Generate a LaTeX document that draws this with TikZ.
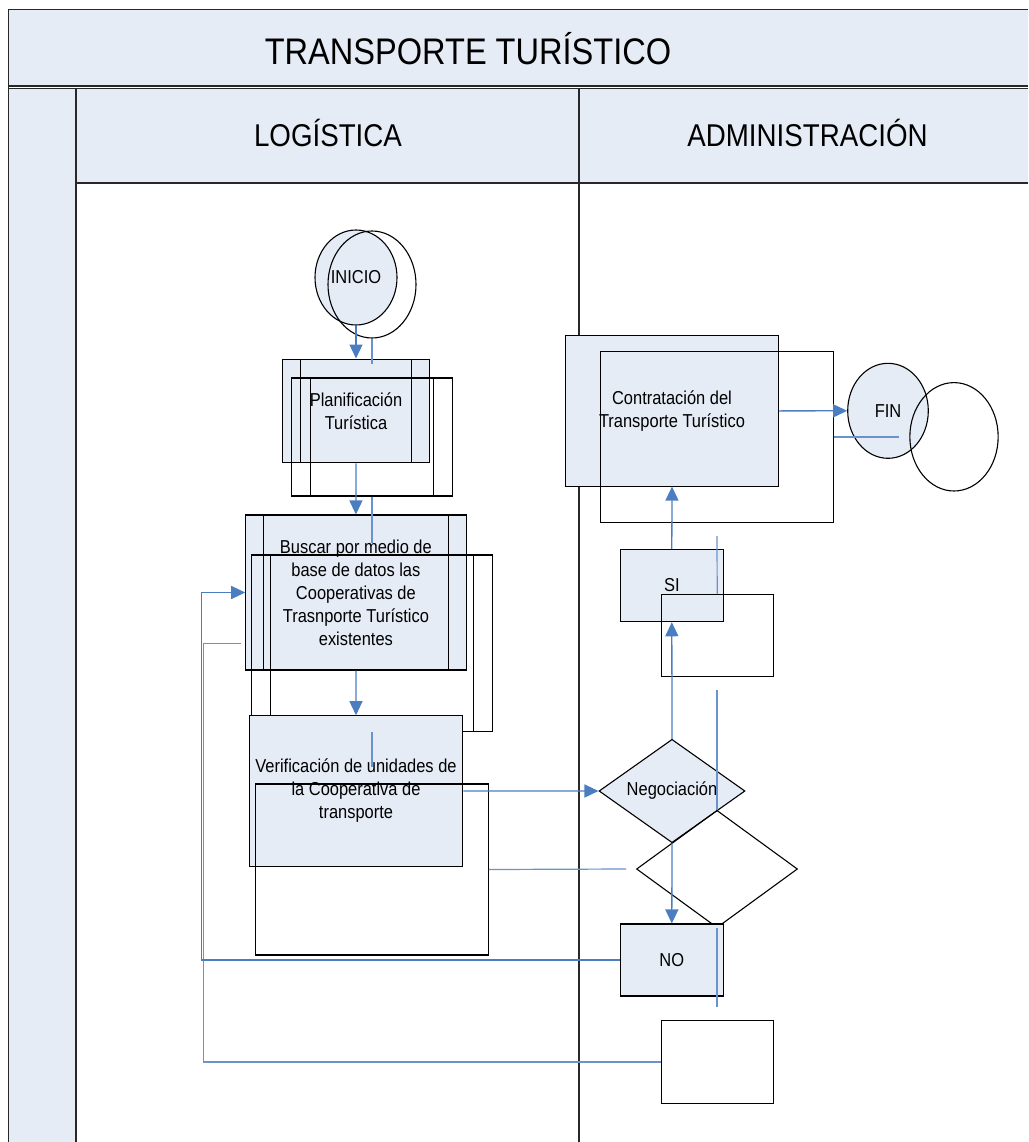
\documentclass[tikz,border=0pt]{standalone}
\usepackage{fontspec}
\setmainfont{Liberation Sans}[FakeStretch=0.88]
\usetikzlibrary{shapes.geometric,arrows.meta,calc}

\definecolor{boxfill}{RGB}{230,236,246}
\definecolor{flowblue}{RGB}{74,126,193}
\definecolor{ghostblue}{RGB}{105,147,207}
\definecolor{frameline}{RGB}{40,40,40}

\newcommand{\bodyfont}{\fontsize{18.7}{23}\selectfont}

\tikzset{
  frame/.style={draw=frameline, line width=1.6pt},
  shapebox/.style={draw=black, line width=1.1pt, fill=boxfill, inner sep=0pt,
    font=\bodyfont, align=center},
  ghostbox/.style={draw=black, line width=1.1pt, inner sep=0pt},
  predef/.style={path picture={
      \draw[black, line width=1.1pt]
        ([xshift=#1]path picture bounding box.north west) --
        ([xshift=#1]path picture bounding box.south west)
        ([xshift=-#1]path picture bounding box.north east) --
        ([xshift=-#1]path picture bounding box.south east);}},
  flow/.style={draw=flowblue, line width=1.3pt,
    -{Triangle[length=14pt,width=13pt]}},
  ghostflow/.style={draw=ghostblue, line width=1.2pt},
  lanetext/.style={font=\fontsize{31.5}{36}\selectfont}
}

\begin{document}
\begin{tikzpicture}[x=1pt,y=-1pt]
\useasboundingbox (0,0) rectangle (1028,1142);
\fill[white] (0,0) rectangle (1028,1142);

% pool title band, lane headers and the left strip
\fill[boxfill] (8.3,9.7) rectangle (1028,86);
\fill[boxfill] (8.3,88.5) rectangle (1028,183);
\fill[boxfill] (8.3,88.5) rectangle (76,1142);
\draw[frame] (1028,9.7) -- (8.3,9.7) -- (8.3,1142);
\draw[frame] (8.3,86) -- (1028,86);
\draw[frame] (8.3,88.7) -- (1028,88.7);
\draw[frame] (76,88.7) -- (76,1142);
\draw[frame] (76,183) -- (1028,183);
\draw[frame] (579,88.7) -- (579,1142);

\node[font=\fontsize{37}{42}\selectfont] (title) at (468,49) {TRANSPORTE TURÍSTICO};
\node[lanetext] (lanelog) at (328,133) {LOGÍSTICA};
\node[lanetext] (laneadm) at (807.5,133) {ADMINISTRACIÓN};

% start
\node[shapebox, ellipse, minimum width=82pt, minimum height=95pt] (inicio) at (356,277.5) {INICIO};
\node[ghostbox, ellipse, minimum width=88pt, minimum height=107pt] (inicioG) at (372,284.5) {};

% planning
\node[shapebox, predef=17.5pt, minimum width=146.6pt, minimum height=103.7pt] (plan) at (356,410.9) {Planificación\\Turística};
\node[ghostbox, predef=19pt, minimum width=160.6pt, minimum height=118pt] (planG) at (372,437) {};

% database search
\node[shapebox, predef=17.8pt, minimum width=220.3pt, minimum height=155pt] (busc) at (355.9,592.5)
  {Buscar por medio de\\base de datos las\\Cooperativas de\\Trasnporte Turístico\\existentes};
\node[ghostbox, predef=19pt, minimum width=240.6pt, minimum height=176.7pt] (buscG) at (372,643.3) {};

% verification
\node[shapebox, minimum width=213.4pt, minimum height=150.3pt] (verif) at (356,790.9)
  {Verificación de unidades de\\la Cooperativa de\\transporte};
\node[ghostbox, minimum width=233pt, minimum height=171pt] (verifG) at (371.8,869.5) {};

% negotiation
\node[shapebox, diamond, aspect=1.41, minimum width=146pt, minimum height=103.4pt] (neg) at (672,791) {Negociación};
\node[ghostbox, diamond, aspect=1.37, minimum width=161pt, minimum height=117.4pt] (negG) at (717,869) {};

% outcomes
\node[shapebox, minimum width=103pt, minimum height=72.4pt] (si) at (671.8,585.5) {SI};
\node[ghostbox, minimum width=112.3pt, minimum height=82.4pt] (siG) at (717.2,635.5) {};
\node[shapebox, minimum width=103pt, minimum height=72pt] (no) at (671.8,960) {NO};
\node[ghostbox, minimum width=112.3pt, minimum height=82.6pt] (noG) at (717.2,1062) {};

% hiring
\node[shapebox, minimum width=212.6pt, minimum height=150.3pt] (contr) at (672,410.9)
  {Contratación del\\Transporte Turístico};
\node[ghostbox, minimum width=232.6pt, minimum height=170.6pt] (contrG) at (717,437) {};

% end
\node[shapebox, ellipse, minimum width=80.6pt, minimum height=95pt] (fin) at (888,410.8) {FIN};
\node[ghostbox, ellipse, minimum width=88.3pt, minimum height=108.4pt] (finG) at (954,436.8) {};

% free ends of the offset connector copies
\coordinate (g1) at (372,364);
\coordinate (g2) at (372,543);
\coordinate (g3a) at (372,732);
\coordinate (g3b) at (372,767);
\coordinate (g4) at (626,869);
\coordinate (g5) at (717,690);
\coordinate (g6) at (717,536);
\coordinate (g7) at (717,1007);
\coordinate (g8) at (899,437);
\coordinate (g9) at (240.7,643.3);

% offset connector copies
\draw[ghostflow] (inicioG.south) -- (g1);
\draw[ghostflow] (planG.south) -- (g2);
\draw[ghostflow] (g3a) -- (g3b);
\draw[ghostflow] (verifG.east) -- (g4);
\draw[ghostflow] (g5) -- (negG.north);
\draw[ghostflow] (g6) -- (siG.north);
\draw[ghostflow] (negG.south) -- (g7);
\draw[ghostflow] (contrG.east) -- (g8);
\draw[ghostflow] (noG.west) -| (g9 -| 203.3,0) -- (g9);

% flow
\draw[flow] (inicio.south) -- (plan.north);
\draw[flow] (plan.south) -- (busc.north);
\draw[flow] (busc.south) -- (verif.north);
\draw[flow] (verif.east) -- (neg.west);
\draw[flow] (neg.north) -- (si.south);
\draw[flow] (si.north) -- (contr.south);
\draw[flow] (contr.east) -- (fin.west);
\draw[flow] (neg.south) -- (no.north);
\draw[flow] (no.west) -| ([xshift=-44pt]busc.west) -- (busc.west);
\end{tikzpicture}
\end{document}
